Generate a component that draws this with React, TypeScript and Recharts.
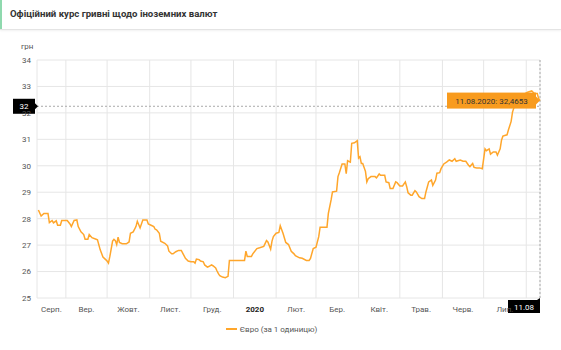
import { LineChart, Line, XAxis, YAxis, CartesianGrid, ReferenceLine, ReferenceDot, Legend } from "recharts";

// days counted from 11.08.2019
const days = [
  1, 3, 5, 8, 9, 11, 12, 14, 15, 17, 18, 22, 24, 25, 27, 29, 30, 32, 34, 35,
  37, 38, 40, 43, 44, 46, 48, 50, 51, 52, 53, 55, 56, 57, 58, 59, 60, 62, 65, 67,
  68, 70, 72, 73, 75, 77, 80, 81, 83, 85, 86, 87, 89, 90, 93, 95, 96, 98, 99, 101,
  103, 105, 106, 108, 110, 112, 114, 115, 116, 118, 119, 121, 122, 124, 125, 127, 128, 130, 131, 132,
  133, 135, 137, 139, 140, 151, 152, 153, 156, 157, 160, 162, 165, 167, 168, 170, 171, 172, 174, 176,
  177, 179, 181, 183, 185, 187, 188, 191, 193, 196, 198, 199, 201, 203, 205, 206, 211, 212, 214, 215,
  218, 219, 220, 222, 224, 225, 226, 228, 229, 231, 233, 234, 235, 236, 237, 239, 240, 241, 243, 246,
  247, 249, 250, 253, 254, 256, 257, 259, 261, 262, 264, 266, 268, 269, 270, 272, 273, 275, 276, 278,
  280, 282, 283, 285, 287, 288, 290, 291, 293, 294, 296, 298, 300, 302, 304, 305, 308, 310, 312, 314,
  315, 317, 318, 320, 322, 324, 326, 327, 329, 330, 332, 334, 335, 337, 338, 339, 342, 343, 345, 346,
  348, 350, 352, 354, 357, 360, 361, 362, 364, 365, 366,
];

const eurRates = [
  28.33, 28.1, 28.2, 28.2, 27.85, 27.93, 27.84, 27.92, 27.75, 27.75, 27.93, 27.93, 27.8, 27.7, 27.93, 27.95, 27.7, 27.5, 27.4, 27.22,
  27.22, 27.4, 27.28, 27.22, 27.2, 26.82, 26.55, 26.45, 26.4, 26.32, 26.57, 27.15, 27.22, 27.17, 27.02, 27.3, 27.1, 27.05, 27.05, 27.12,
  27.45, 27.5, 27.7, 27.9, 27.65, 27.95, 27.95, 27.8, 27.75, 27.7, 27.6, 27.58, 27.45, 27.15, 27.07, 26.97, 26.77, 26.67, 26.67, 26.75,
  26.8, 26.8, 26.7, 26.5, 26.4, 26.37, 26.37, 26.32, 26.47, 26.45, 26.4, 26.37, 26.25, 26.17, 26.19, 26.25, 26.22, 26.14, 26.02, 25.92,
  25.84, 25.79, 25.77, 25.82, 26.42, 26.42, 26.77, 26.57, 26.57, 26.67, 26.87, 26.9, 26.95, 27.17, 27.12, 26.85, 27.15, 27.32, 27.45, 27.48,
  27.73, 27.45, 27.1, 27.02, 26.77, 26.67, 26.6, 26.52, 26.5, 26.42, 26.42, 26.5, 26.87, 26.92, 27.32, 27.68, 27.68, 28.2, 28.71, 29.01,
  29.04, 29.59, 29.74, 30.07, 30.07, 29.7, 30.19, 30.14, 30.85, 30.87, 30.95, 30.29, 30.34, 30.09, 30.09, 29.79, 29.39, 29.51, 29.59, 29.59,
  29.54, 29.69, 29.64, 29.64, 29.39, 29.36, 29.14, 29.14, 29.39, 29.36, 29.24, 29.24, 29.39, 29.21, 28.98, 28.89, 28.89, 29.06, 29.01, 28.83,
  28.76, 28.76, 29.01, 29.39, 29.46, 29.26, 29.46, 29.72, 29.74, 29.89, 30.07, 30.14, 30.22, 30.17, 30.27, 30.17, 30.22, 30.17, 30.17, 30.02,
  29.97, 30.09, 29.94, 29.92, 29.92, 29.89, 30.64, 30.57, 30.64, 30.44, 30.52, 30.52, 30.4, 30.64, 30.97, 31.12, 31.17, 31.35, 31.68, 32.03,
  32.35, 32.55, 32.65, 32.7, 32.78, 32.83, 32.78, 32.73, 32.73, 32.55, 32.4653,
];

const monthLabels = ["Серп.", "Вер.", "Жовт.", "Лист.", "Груд.", "2020", "Лют.", "Бер.", "Квіт.", "Трав.", "Черв.", "Лип."];
const yTicks = [25, 26, 27, 28, 29, 30, 31, 32, 33, 34];

const lastDay = 366;
const lastRate = 32.4653;
const cursorRate = 32.25;
const tooltipText = "11.08.2020: 32,4653";
const cursorDate = "11.08";

const START = Date.UTC(2019, 7, 11);
const DAY = 86400000;
const monthStarts: number[] = [];
for (let m = 8; m <= 19; m++) monthStarts.push((Date.UTC(2019, m, 1) - START) / DAY);
const bounds = [0, ...monthStarts, lastDay];
const labelTicks = monthLabels.map((_, i) => (bounds[i] + bounds[i + 1]) / 2);

const data = days.map((d, i) => ({ day: d, eur: eurRates[i] }));

const ORANGE = "#FFA62B";
const FONT = "Roboto, sans-serif";

const MonthTick = ({ x, y, payload }: any) => {
  const i = labelTicks.indexOf(payload.value);
  const label = monthLabels[i];
  const bold = label === "2020";
  return (
    <text x={x} y={y + 6} textAnchor="middle" fontSize={8} fontFamily={FONT}
      fill={bold ? "#222" : "#555"} fontWeight={bold ? 700 : 400}>
      {label}
    </text>
  );
};

const YBadge = ({ viewBox }: any) => {
  const { x, y } = viewBox;
  return (
    <g>
      <rect x={x - 24} y={y - 7.5} width={22} height={15} fill="#000" />
      <path d={`M${x - 2},${y - 3} L${x + 1},${y} L${x - 2},${y + 3} Z`} fill="#000" />
      <text x={x - 13} y={y + 3} textAnchor="middle" fontSize={8} fontFamily={FONT} fill="#fff">
        {Math.round(cursorRate)}
      </text>
    </g>
  );
};

const XBadge = ({ viewBox }: any) => {
  const { x, y, height } = viewBox;
  const b = y + height;
  return (
    <g>
      <path d={`M${x - 3},${b + 2} L${x},${b} L${x},${b + 2} Z`} fill="#000" />
      <rect x={x - 32} y={b + 2} width={32} height={13} fill="#000" />
      <text x={x - 16} y={b + 11.5} textAnchor="middle" fontSize={8} fontFamily={FONT} fill="#fff">
        {cursorDate}
      </text>
    </g>
  );
};

const TooltipBox = ({ cx, cy }: any) => (
  <g>
    <rect x={cx - 93} y={cy - 8} width={89} height={16} fill="#F89B1E" />
    <path d={`M${cx - 4},${cy - 4} L${cx},${cy} L${cx - 4},${cy + 4} Z`} fill="#F89B1E" />
    <text x={cx - 48.5} y={cy + 3} textAnchor="middle" fontSize={8} fontFamily={FONT} fill="#333">
      {tooltipText}
    </text>
  </g>
);

const LegendContent = () => (
  <div style={{ display: "flex", justifyContent: "center", alignItems: "center", height: 18, fontFamily: FONT, fontSize: 8, color: "#555", paddingRight: 4 }}>
    <span style={{ display: "inline-block", width: 11, height: 2, background: ORANGE, marginRight: 3 }} />
    Євро (за 1 одиницю)
  </div>
);

export default function App() {
  return (
    <div style={{ position: "absolute", left: 0, top: 0, width: 561, height: 350, background: "#fff", fontFamily: FONT }}>
      <div style={{ position: "absolute", left: 0, top: 0, width: 561, height: 29, borderBottom: "1px solid #e4e4e4", boxShadow: "0 1px 2px rgba(0,0,0,0.06)" }}>
        <div style={{ position: "absolute", left: 0, top: 0, width: 2, height: 29, background: "#8fd9ae" }} />
        <div style={{ position: "absolute", left: 10, top: 8, fontSize: 9.6, fontWeight: 700, color: "#333", whiteSpace: "nowrap" }}>
          Офіційний курс гривні щодо іноземних валют
        </div>
      </div>
      <div style={{ position: "absolute", left: 21, top: 42, fontSize: 8, color: "#555" }}>грн</div>
      <div style={{ position: "absolute", left: 0, top: 0 }}>
        <LineChart width={561} height={350} data={data} margin={{ top: 60, right: 21, left: 7, bottom: 12 }}>
          <CartesianGrid xAxisId="grid" stroke="#e6e6e6" />
          <XAxis xAxisId="labels" dataKey="day" type="number" domain={[0, lastDay]} ticks={labelTicks}
            interval={0} tick={<MonthTick />} axisLine={false} tickLine={false} height={22} />
          <XAxis xAxisId="grid" dataKey="day" type="number" domain={[0, lastDay]} ticks={monthStarts} hide height={0} />
          <YAxis domain={[25, 34]} ticks={yTicks} width={30} axisLine={false} tickLine={false} tickMargin={0}
            tick={{ fontSize: 8, fill: "#555", fontFamily: FONT }} />
          <Legend verticalAlign="bottom" content={<LegendContent />} />
          <ReferenceLine xAxisId="labels" y={cursorRate} stroke="#aaa" strokeDasharray="2 2" label={<YBadge />} />
          <ReferenceLine xAxisId="labels" x={lastDay} stroke="#aaa" strokeDasharray="2 2" label={<XBadge />} />
          <Line xAxisId="labels" type="linear" dataKey="eur" stroke={ORANGE} strokeWidth={1.5} dot={false}
            activeDot={false} isAnimationActive={false} />
          <ReferenceDot xAxisId="labels" x={lastDay} y={lastRate} r={0} shape={<TooltipBox />} />
        </LineChart>
      </div>
    </div>
  );
}
